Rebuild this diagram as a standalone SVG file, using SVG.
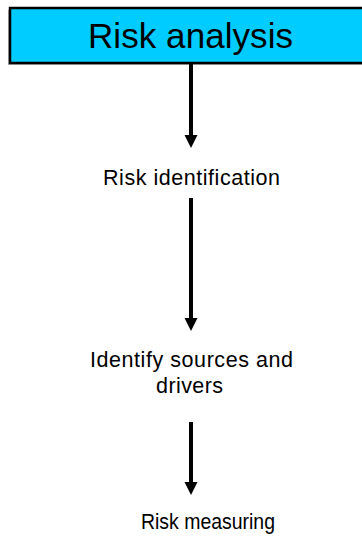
<svg xmlns="http://www.w3.org/2000/svg" width="362" height="539" viewBox="0 0 362 539">
  <style>
    .label { font-family: "Liberation Sans", Arial, sans-serif; font-size: 21.5px; fill: #000; text-anchor: middle; }
    .title { font-family: "Liberation Sans", Arial, sans-serif; font-size: 35px; fill: #000; text-anchor: middle; }
    .conn { stroke: #000; stroke-width: 4; fill: none; }
    .head { fill: #000; }
  </style>
  <rect width="362" height="539" fill="#fff"/>

  <!-- title banner with soft drop shadow -->
  <g id="risk-analysis">
    <rect x="8" y="10" width="370" height="55" fill="#b4b4b4"/>
    <rect x="10" y="8" width="370" height="55" fill="#00CCFF" stroke="#000" stroke-width="2.5"/>
    <text class="title" x="190.5" y="48" textLength="205" lengthAdjust="spacing">Risk analysis</text>
  </g>

  <g id="risk-identification">
    <text class="label" x="191.5" y="185" textLength="177" lengthAdjust="spacing">Risk identification</text>
  </g>

  <g id="identify-sources">
    <text class="label" x="191.5" y="367" textLength="203" lengthAdjust="spacing">Identify sources and</text>
    <text class="label" x="189.5" y="393" textLength="67" lengthAdjust="spacing">drivers</text>
  </g>

  <g id="risk-measuring">
    <text class="label" x="208" y="529" textLength="134" lengthAdjust="spacingAndGlyphs">Risk measuring</text>
  </g>

  <!-- connectors -->
  <g id="connectors">
    <line class="conn" x1="191" y1="64" x2="191" y2="140"/>
    <path class="head" d="M184.5,135 L197.5,135 L191,148 Z"/>
    <line class="conn" x1="191" y1="198" x2="191" y2="322"/>
    <path class="head" d="M184.5,318 L197.5,318 L191,331 Z"/>
    <line class="conn" x1="191" y1="422" x2="191" y2="486"/>
    <path class="head" d="M184.5,482 L197.5,482 L191,495 Z"/>
  </g>
</svg>
